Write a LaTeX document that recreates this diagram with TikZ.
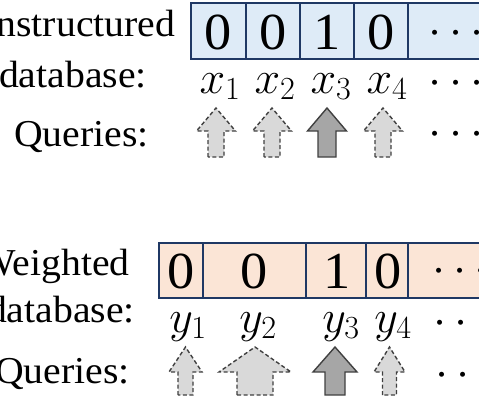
\RequirePackage{fix-cm}
\documentclass[tikz,border=0pt]{standalone}
\usepackage{amsmath}
\usepackage{fontspec}
\setmainfont{Liberation Serif}[FakeStretch=1.045]
\usepackage{tikz}
\definecolor{CellBlue}{RGB}{222,235,247}
\definecolor{CellPeach}{RGB}{251,229,214}
\definecolor{CellEdge}{RGB}{31,56,100}
\definecolor{QueryLight}{RGB}{217,217,217}
\definecolor{QueryDark}{RGB}{166,166,166}
\definecolor{QueryEdge}{RGB}{64,64,64}

\begin{document}
\begin{tikzpicture}[x=1pt,y=-1pt,
    lbl/.style={inner sep=0pt,anchor=base east,font=\fontsize{38}{41}\selectfont},
    digit/.style={inner sep=0pt,anchor=base,font=\fontsize{52}{56}\selectfont},
    idx/.style={inner sep=0pt,anchor=base,font=\fontsize{46}{50}\selectfont},
    dots/.style={inner sep=0pt,anchor=base west,font=\fontsize{47}{50}\selectfont},
    edge/.style={CellEdge,line width=1.8pt},
    qlight/.style={fill=QueryLight,draw=QueryEdge,dash pattern=on 4pt off 2.5pt,line width=1.4pt},
    qdark/.style={fill=QueryDark,draw=QueryEdge,line width=1.4pt}]
        \useasboundingbox (0,0) rectangle (479,400);
        \clip (0,0) rectangle (479,400);
        % unstructured database
        \node[lbl] (utitle) at (175.5,36) {Unstructured};
        \node[lbl] (udb) at (147,87) {database:};
        \node[lbl] (uq) at (149,146) {Queries:};
        \filldraw[edge,fill=CellBlue] (191,3) rectangle (520,59);
        \foreach \x in {246,300,354,408} \draw[edge] (\x,3)--(\x,59);
        \foreach \cx/\v [count=\i] in {218.5/0,273/0,327/1,381/0}
          \node[digit] (x\i val) at (\cx,49.5) {\v};
        \node[dots] (xcdots) at (428.5,44.5) {$\cdots$};
        \foreach \cx [count=\i] in {220,275,331,387}
          \node[idx] (x\i) at (\cx,93) {$x_{\i}$};
        \node[dots] (xlcdots) at (428.5,94) {$\cdots$};
        \foreach \cx/\sw/\hw/\sty in {216/8/19.5/qlight,272/8/19.5/qlight,327/9/19.5/qdark,383/8/19.5/qlight}
          \draw[\sty] ({\cx-\sw},157)--({\cx-\sw},131)--({\cx-\hw},131)--(\cx,108)
            --({\cx+\hw},131)--({\cx+\sw},131)--({\cx+\sw},157)--cycle;
        \node[dots] (xqcdots) at (428.5,145) {$\cdots$};
        % weighted database
        \node[lbl] (wtitle) at (130,275) {Weighted};
        \node[lbl] (wdb) at (135,322) {database:};
        \node[lbl] (wq) at (130,383) {Queries:};
        \filldraw[edge,fill=CellPeach] (159,243) rectangle (520,298);
        \foreach \x in {203,306,366,408} \draw[edge] (\x,243)--(\x,298);
        \foreach \cx/\v [count=\i] in {181/0,254.5/0,337/1,388/0}
          \node[digit] (y\i val) at (\cx,288) {\v};
        \node[dots] (ycdots) at (432.5,282) {$\cdots$};
        \foreach \cx [count=\i] in {188,258,341,393}
          \node[idx] (y\i) at (\cx,332) {$y_{\i}$};
        \node[dots] (ylcdots) at (433.5,334) {$\cdots$};
        \foreach \cx/\sw/\hw/\sty in {185.5/7.5/16.5/qlight,255/18/36/qlight,335/10/22/qdark,389.5/7/15.5/qlight}
          \draw[\sty] ({\cx-\sw},395)--({\cx-\sw},372)--({\cx-\hw},372)--(\cx,347)
            --({\cx+\hw},372)--({\cx+\sw},372)--({\cx+\sw},395)--cycle;
        \node[dots] (yqcdots) at (435.5,386) {$\cdots$};
      \end{tikzpicture}
\end{document}
